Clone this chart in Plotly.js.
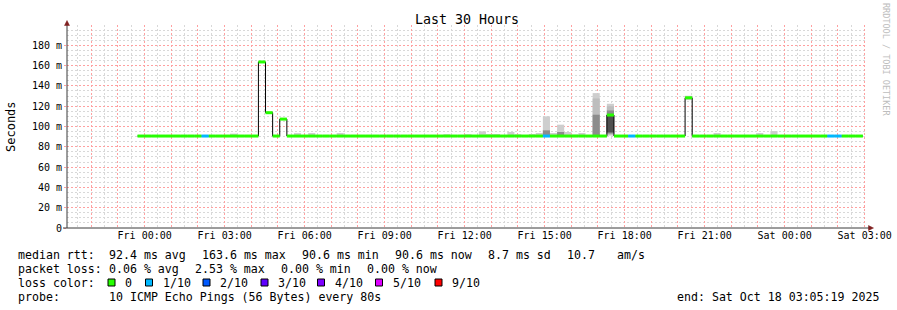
<!DOCTYPE html>
<html><head><meta charset="utf-8">
<script src="https://cdn.plot.ly/plotly-3.0.1.min.js"></script>
<style>html,body{margin:0;padding:0;background:#fff;}#chart{width:897px;height:310px;}</style>
</head><body><div id="chart"></div>
<script>
// ---------------- data ----------------
// 16-minute consolidated bins, first bin starts Thu 2025-10-16 23:44
const firstBinUTC = Date.UTC(2025, 9, 16, 23, 44);
const binMinutes = 16;
// median RTT per bin (ms)
const medianMs = [
  90.6,90.6,90.6,90.6,90.6,90.6,90.6,90.6,90.6,90.6,
  90.6,90.6,90.6,90.6,90.6,90.6,90.6,163.6,113.6,90.6,
  107.3,90.6,90.6,90.6,90.6,90.6,90.6,90.6,90.6,90.6,
  90.6,90.6,90.6,90.6,90.6,90.6,90.6,90.6,90.6,90.6,
  90.6,90.6,90.6,90.6,90.6,90.6,90.6,90.6,90.6,90.6,
  90.6,90.6,90.6,90.6,90.6,90.6,90.6,90.6,90.6,90.6,
  90.6,90.6,90.6,90.6,90.6,90.6,111.3,90.6,90.6,90.6,
  90.6,90.6,90.6,90.6,90.6,90.6,90.6,128.3,90.6,90.6,
  90.6,90.6,90.6,90.6,90.6,90.6,90.6,90.6,90.6,90.6,
  90.6,90.6,90.6,90.6,90.6,90.6,90.6,90.6,90.6,90.6,
  90.6,90.6
];
// loss level per bin (index into lossLabels)
const lossLevel = [
  0,0,0,0,0,0,0,0,0,1,
  0,0,0,0,0,0,0,0,0,0,
  0,0,0,0,0,0,0,0,0,0,
  0,0,0,0,0,0,0,0,0,0,
  0,0,0,0,0,0,0,0,0,0,
  0,0,0,0,0,0,0,1,0,0,
  0,0,0,0,0,0,0,0,0,1,
  0,0,0,0,0,0,0,0,0,0,
  0,0,0,0,0,0,0,0,0,0,
  0,0,0,0,0,0,0,1,1,0,
  0,0
];
const lossLabels = ['0','1/10','2/10','3/10','4/10','5/10','9/10'];
const lossColors = ['#26ff00','#00b8ff','#0059ff','#5e00ff','#7e00ff','#dd00ff','#ff0000'];

// smoke (ping spread) for bins where it is visible, ms
const smokeTime = ['2025-10-17 03:12','2025-10-17 05:36','2025-10-17 06:08','2025-10-17 07:12',
  '2025-10-17 11:12','2025-10-17 12:00','2025-10-17 12:32','2025-10-17 12:48','2025-10-17 13:04',
  '2025-10-17 13:36','2025-10-17 13:52','2025-10-17 14:24','2025-10-17 14:40','2025-10-17 14:56',
  '2025-10-17 15:12','2025-10-17 15:28','2025-10-17 15:44','2025-10-17 16:00','2025-10-17 16:16',
  '2025-10-17 16:48','2025-10-17 17:20','2025-10-17 20:16','2025-10-17 21:20','2025-10-17 22:56',
  '2025-10-17 23:28'];
const smokeOuterLo = [90.6,90.6,90.6,90.6,90.6,90.6,90.6,90.6,90.6,90.6,90.6,90.6,90.6,90.6,90.6,90.6,90.6,90.6,90.6,90.6,91.0,126.0,90.6,90.6,90.6];
const smokeOuterHi = [93.0,93.5,93.6,93.6,92.4,92.4,95.2,92.6,92.6,94.6,92.4,92.6,93.6,110.0,93.6,101.8,94.6,92.2,93.6,132.9,122.4,130.3,93.6,93.6,95.5];
const smokeMidLo   = [null,null,null,null,null,null,null,null,null,null,null,null,null,null,null,null,null,null,null,90.6,92.0,null,null,null,null];
const smokeMidHi   = [null,null,null,null,null,null,null,null,null,null,null,null,null,null,null,null,null,null,null,127.6,120.0,null,null,null,null];
const smokeCoreLo  = [null,null,null,null,null,null,null,null,null,null,null,null,null,90.6,null,90.6,null,null,null,90.6,93.0,null,null,null,null];
const smokeCoreHi  = [null,null,null,null,null,null,null,null,null,null,null,null,null,96.2,null,94.6,null,null,null,111.6,115.8,null,null,null,null];
const smokeInnerLo = [null,null,null,null,null,null,null,null,null,null,null,null,null,null,null,null,null,null,null,null,94.2,null,null,null,null];
const smokeInnerHi = [null,null,null,null,null,null,null,null,null,null,null,null,null,null,null,null,null,null,null,null,111.3,null,null,null,null];

// axis ticks
const yTickVals = [0,20,40,60,80,100,120,140,160,180];
const yTickText = ['0','20 m','40 m','60 m','80 m','100 m','120 m','140 m','160 m','180 m'];
const xTickTimes = ['2025-10-17 00:00','2025-10-17 03:00','2025-10-17 06:00','2025-10-17 09:00','2025-10-17 12:00',
  '2025-10-17 15:00','2025-10-17 18:00','2025-10-17 21:00','2025-10-18 00:00','2025-10-18 03:00'];
const xTickText = ['Fri 00:00','Fri 03:00','Fri 06:00','Fri 09:00','Fri 12:00','Fri 15:00','Fri 18:00','Fri 21:00','Sat 00:00','Sat 03:00'];
const rangeStart = '2025-10-16 21:05:19', rangeEnd = '2025-10-18 03:05:19';

// legend texts
const statRtt = ['median rtt:','92.4 ms avg','163.6 ms max','90.6 ms min','90.6 ms now','8.7 ms sd','10.7','am/s'];
const statLoss = ['packet loss:','0.06 % avg','2.53 % max','0.00 % min','0.00 % now'];
const probeText = ['probe:','10 ICMP Echo Pings (56 Bytes) every 80s'];
const endText = 'end: Sat Oct 18 03:05:19 2025';

// ---------------- layout geometry ----------------
const W=897,H=310,L=67,R=30,T=25,B=82;
const PW=W-L-R, PH=H-T-B;
const px = x => (x-L)/PW;
const py = y => (H-B-y)/PH;
const MONO = 'DejaVu Sans Mono, monospace';
const binMs = binMinutes*60000;
const binTimes = medianMs.map((_,i)=>firstBinUTC + i*binMs);

// ---------------- traces ----------------
const traces = [];
function smokeTrace(lo, hi, color){
  return {type:'bar', x:smokeTime, base:lo, y:hi.map((h,i)=>h==null?null:h-lo[i]),
    width:binMs, offset:0, marker:{color:color, line:{width:0}}, hoverinfo:'skip', showlegend:false};
}
traces.push(smokeTrace(smokeOuterLo, smokeOuterHi, '#cecece'));
traces.push(smokeTrace(smokeMidLo, smokeMidHi, '#bdbdbd'));
traces.push(smokeTrace(smokeCoreLo, smokeCoreHi, '#8c8c8c'));
traces.push(smokeTrace(smokeInnerLo, smokeInnerHi, '#505050'));

// median black step line
traces.push({type:'scatter', mode:'lines', x:binTimes.concat([binTimes[binTimes.length-1]+binMs]),
  y:medianMs.concat([medianMs[medianMs.length-1]]), line:{shape:'hv', color:'#000', width:1},
  hoverinfo:'skip', showlegend:false});

// loss-coloured median bands
lossColors.forEach((c,lv)=>{
  const xs=[], ys=[];
  medianMs.forEach((m,i)=>{ if(lossLevel[i]===lv){ xs.push(binTimes[i], binTimes[i]+binMs, null); ys.push(m,m,null);} });
  if(xs.length) traces.push({type:'scatter', mode:'lines', x:xs, y:ys, connectgaps:false,
    line:{color:c, width:3}, hoverinfo:'skip', showlegend:false});
});

// ---------------- x grid ticks (hourly grid, labels every 3h) ----------------
const hourVals=[], hourText=[];
for(let t=Date.UTC(2025,9,16,22); t<=Date.UTC(2025,9,18,3); t+=3600000){
  const d=new Date(t);
  const s=d.toISOString().slice(0,16).replace('T',' ');
  const k=xTickTimes.indexOf(s);
  hourVals.push(s); hourText.push(k>=0?xTickText[k]:'');
}

// ---------------- annotations ----------------
const ann=[];
function txt(x,y,t,size,extra){ ann.push(Object.assign({xref:'paper',yref:'paper',x:px(x),y:py(y),text:t,showarrow:false,
  xanchor:'left',yanchor:'middle',font:{family:MONO,size:size||11.6,color:'#000'}},extra||{})); }
const rttX=[16,107,200,300,393,486,565,615];
statRtt.forEach((t,i)=>txt(rttX[i],254.5,t));
const lossX=[16,107,193,279,365];
statLoss.forEach((t,i)=>txt(lossX[i],268.5,t));
txt(16,282.5,'loss color:');
const boxX=[108,145.5,203,261,317.5,375.5,435];
const shapes=[];
lossLabels.forEach((lab,i)=>{
  shapes.push({type:'rect',xref:'paper',yref:'paper',x0:px(boxX[i]),x1:px(boxX[i]+7),y0:py(286),y1:py(279),
    fillcolor:lossColors[i],line:{color:'#000',width:1}});
  txt(boxX[i]+15,282.5,lab);
});
txt(16,296.5,probeText[0]); txt(107,296.5,probeText[1]);
txt(881,296.5,endText,11.6,{xanchor:'right'});
txt(11,126,'Seconds',12,{xanchor:'center',textangle:-90});
txt(886,59,'RRDTOOL / TOBI OETIKER',8.5,{xanchor:'center',textangle:90,font:{family:MONO,size:8.5,color:'#bdbdbd'}});

// axis lines & arrows
const axisCol='#3a3a3a', arrowCol='#7f1f1f';
shapes.push({type:'line',xref:'paper',yref:'paper',x0:px(63),x1:px(869),y0:py(228),y1:py(228),line:{color:axisCol,width:1}});
shapes.push({type:'line',xref:'paper',yref:'paper',x0:px(67),x1:px(67),y0:py(228),y1:py(23),line:{color:axisCol,width:1}});
shapes.push({type:'path',xref:'paper',yref:'paper',path:`M ${px(64.5)} ${py(25.5)} L ${px(69.5)} ${py(25.5)} L ${px(67)} ${py(20.5)} Z`,fillcolor:arrowCol,line:{color:arrowCol,width:0.5}});
shapes.push({type:'path',xref:'paper',yref:'paper',path:`M ${px(868.5)} ${py(225.5)} L ${px(868.5)} ${py(230.5)} L ${px(873.5)} ${py(228)} Z`,fillcolor:arrowCol,line:{color:arrowCol,width:0.5}});

const layout={
  width:W,height:H,margin:{l:L,r:R,t:T,b:B,pad:0},
  paper_bgcolor:'#fff',plot_bgcolor:'#fff',barmode:'overlay',showlegend:false,
  title:{text:'Last 30 Hours',x:0.5,xref:'paper',xanchor:'center',y:1-19/H,yref:'container',yanchor:'middle',
    font:{family:MONO,size:13.3,color:'#000'}},
  xaxis:{type:'date',range:[rangeStart,rangeEnd],tickmode:'array',tickvals:hourVals,ticktext:hourText,
    showgrid:true,gridcolor:'#ffa0a0',griddash:'2px,2px',gridwidth:1,ticks:'',showline:false,zeroline:false,
    tickfont:{family:MONO,size:10,color:'#000'},
    minor:{dtick:1800000,tick0:'2025-10-16 21:30',showgrid:true,gridcolor:'#d8d8d8',griddash:'2px,2px',gridwidth:1}},
  yaxis:{range:[0,200],tickmode:'array',tickvals:yTickVals,ticktext:yTickText,showgrid:true,gridcolor:'#ffa0a0',
    griddash:'2px,2px',gridwidth:1,ticks:'outside',ticklen:2,tickcolor:'#ffa0a0',showline:false,zeroline:false,
    tickfont:{family:MONO,size:10,color:'#000'},
    minor:{dtick:5,tick0:0,showgrid:true,gridcolor:'#d8d8d8',griddash:'2px,2px',gridwidth:1}},
  annotations:ann,shapes:shapes
};
Plotly.newPlot('chart',traces,layout,{staticPlot:true,displayModeBar:false});
</script></body></html>
